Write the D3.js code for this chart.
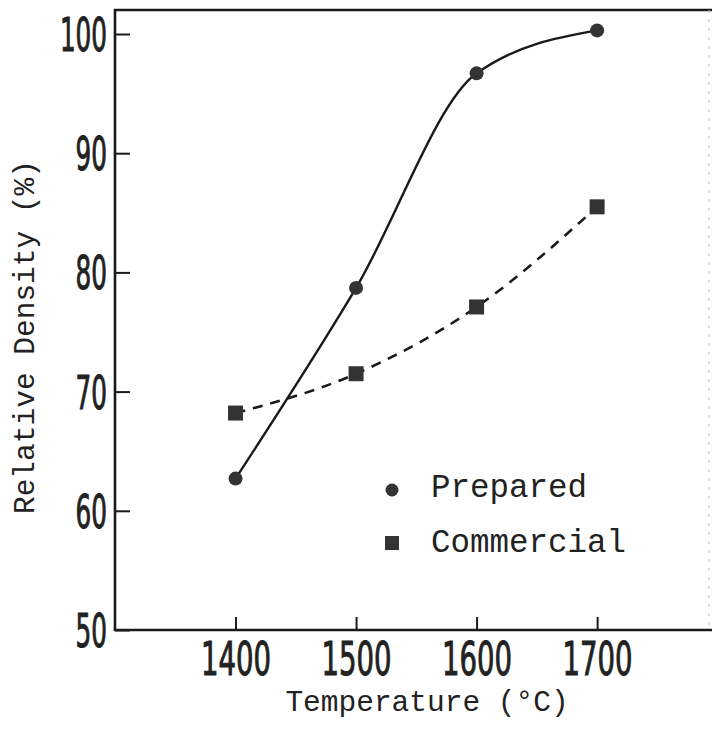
<!DOCTYPE html>
<html>
<head>
<meta charset="utf-8">
<script src="https://cdn.jsdelivr.net/npm/d3@7"></script>
<style>
  html, body { margin: 0; padding: 0; background: #fff; }
  svg { display: block; }
</style>
</head>
<body>
<svg id="chart" width="714" height="733"></svg>
<script>
const temperatures = [1400, 1500, 1600, 1700];
const prepared = [62.7, 78.7, 96.7, 100.3];
const commercial = [68.2, 71.5, 77.1, 85.5];
const xTicks = [1400, 1500, 1600, 1700];
const yTicks = [50, 60, 70, 80, 90, 100];
const seriesNames = ["Prepared", "Commercial"];

(function () {
const svg = d3.select("#chart");
const ink = "#1a1a1a";
const padL = 115, padR = 708, padT = 10, padB = 630;

const x = d3.scaleLinear().domain([1300, 1792]).range([padL, padR]);
const y = d3.scaleLinear().domain([50, 100]).range([padB, 34]);

// frame
svg.append("line").attr("x1", padL).attr("x2", padL).attr("y1", padT - 1).attr("y2", padB + 1)
  .attr("stroke", ink).attr("stroke-width", 2.6);
svg.append("line").attr("x1", padL - 1).attr("x2", 712).attr("y1", padB).attr("y2", padB)
  .attr("stroke", ink).attr("stroke-width", 2.4);
svg.append("line").attr("x1", padL - 1).attr("x2", 712).attr("y1", padT).attr("y2", padT)
  .attr("stroke", ink).attr("stroke-width", 2.6);
svg.append("line").attr("x1", 709).attr("x2", 709).attr("y1", padT).attr("y2", padB)
  .attr("stroke", "#bbb").attr("stroke-width", 1).attr("stroke-dasharray", "3,6");

// axes
const tickFont = "'Liberation Sans Narrow', 'DejaVu Sans Condensed', sans-serif";
const yAxis = d3.axisLeft(y).tickValues(yTicks).tickSize(-15).tickSizeOuter(0).tickPadding(8)
  .tickFormat(d3.format("d"));
const gy = svg.append("g").attr("transform", `translate(${padL},0)`).call(yAxis);
gy.select(".domain").remove();
gy.selectAll(".tick line").attr("stroke", ink).attr("stroke-width", 2);
gy.selectAll(".tick text")
  .attr("fill", "#222")
  .attr("stroke", "#222").attr("stroke-width", 1)
  .attr("font-family", tickFont)
  .attr("font-size", 46)
  .attr("dy", "0.36em")
  .attr("textLength", d => String(d).length * 15.7)
  .attr("lengthAdjust", "spacingAndGlyphs");

const xAxis = d3.axisBottom(x).tickValues(xTicks).tickSize(-13).tickSizeOuter(0).tickPadding(12)
  .tickFormat(d3.format("d"));
const gx = svg.append("g").attr("transform", `translate(0,${padB})`).call(xAxis);
gx.select(".domain").remove();
gx.selectAll(".tick line").attr("stroke", ink).attr("stroke-width", 2);
gx.selectAll(".tick text")
  .attr("fill", "#222")
  .attr("stroke", "#222").attr("stroke-width", 1)
  .attr("font-family", tickFont)
  .attr("font-size", 46)
  .attr("textLength", d => String(d).length * 17.5)
  .attr("lengthAdjust", "spacingAndGlyphs");

// axis titles
const monoFont = "'Liberation Mono', 'DejaVu Sans Mono', monospace";
svg.append("text")
  .attr("x", 427).attr("y", 711)
  .attr("text-anchor", "middle")
  .attr("font-family", monoFont)
  .attr("font-size", 29.5)
  .attr("fill", "#222")
  .text("Temperature (°C)");

svg.append("text")
  .attr("transform", "translate(34,337) rotate(-90)")
  .attr("text-anchor", "middle")
  .attr("font-family", monoFont)
  .attr("font-size", 29.5)
  .attr("fill", "#222")
  .text("Relative Density (%)");

// lines
const prepData = temperatures.map((t, i) => [t, prepared[i]]);
const commData = temperatures.map((t, i) => [t, commercial[i]]);

const lineGen = d3.line().x(d => x(d[0])).y(d => y(d[1])).curve(d3.curveMonotoneX);

svg.append("path").datum(prepData).attr("d", lineGen)
  .attr("fill", "none").attr("stroke", ink).attr("stroke-width", 2.4);
svg.append("path").datum(commData).attr("d", lineGen)
  .attr("fill", "none").attr("stroke", ink).attr("stroke-width", 2.6)
  .attr("stroke-dasharray", "10,8");

// markers
svg.selectAll("circle.prep").data(prepData).join("circle")
  .attr("class", "prep")
  .attr("cx", d => x(d[0])).attr("cy", d => y(d[1])).attr("r", 7)
  .attr("fill", "#333");
svg.selectAll("rect.comm").data(commData).join("rect")
  .attr("class", "comm")
  .attr("x", d => x(d[0]) - 7.5).attr("y", d => y(d[1]) - 7.5)
  .attr("width", 15).attr("height", 15)
  .attr("fill", "#333");

// legend
const legend = svg.append("g");
legend.append("circle").attr("cx", 392).attr("cy", 490).attr("r", 6.5).attr("fill", "#333");
legend.append("rect").attr("x", 385).attr("y", 536).attr("width", 14).attr("height", 14).attr("fill", "#333");
legend.selectAll("text").data(seriesNames).join("text")
  .attr("x", 431)
  .attr("y", (d, i) => i === 0 ? 497 : 552)
  .attr("font-family", monoFont)
  .attr("font-size", 32.5)
  .attr("fill", "#222")
  .text(d => d);
})();
</script>
</body>
</html>
